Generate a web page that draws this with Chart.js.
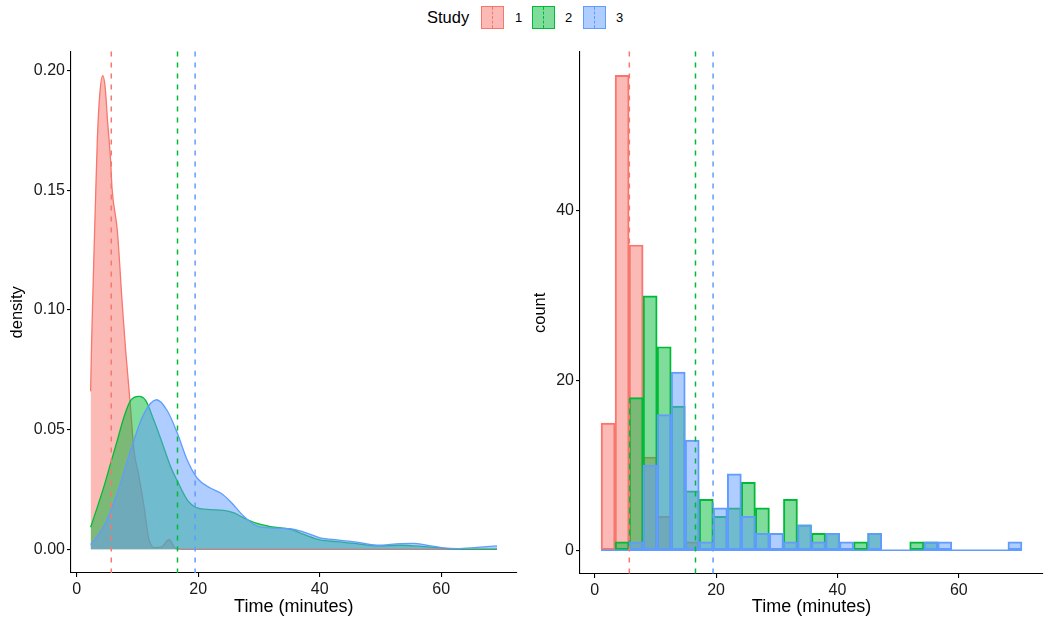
<!DOCTYPE html>
<html lang="en">
<head>
  <meta charset="UTF-8">
  <title>Study times</title>
  <script src="https://cdn.jsdelivr.net/npm/chart.js@4.4.0/dist/chart.umd.min.js"></script>
  <style>
    body { margin: 0; background: #fff; font-family: 'Liberation Sans', Arial, sans-serif; }
    #wrap { position: relative; width: 1045px; height: 623px; overflow: hidden; }
    canvas { position: absolute; top: 40px; }
    .legend-title { position: absolute; left: 427px; top: 8px; font-size: 16.5px; color: #000; }
    .key { position: absolute; top: 6px; width: 21px; height: 21px; border: 1.5px solid; }
    .key span { position: absolute; left: 10px; top: 0; height: 100%; border-left: 1.3px dashed; }
    .key-label { position: absolute; top: 10px; font-size: 13px; color: #000; }
  </style>
</head>
<body>
<div id="wrap">
  <div class="legend-title">Study</div>
  <div class="key" id="key1"><span></span></div><div class="key-label" style="left:515px">1</div>
  <div class="key" id="key2"><span></span></div><div class="key-label" style="left:565px">2</div>
  <div class="key" id="key3"><span></span></div><div class="key-label" style="left:616px">3</div>
  <canvas id="density-chart" width="520" height="583" style="left:0"></canvas>
  <canvas id="hist-chart" width="525" height="583" style="left:520px"></canvas>
</div>

<script>
  // density curves (time in minutes, density)
  var dens1X = [2.3, 2.45, 2.6, 2.86, 3.14, 3.41, 3.8, 4.29, 4.7, 5.06, 5.6, 5.82, 6.7, 7.52, 8.07, 8.78, 9.43, 10.26, 11.08, 11.9, 13.0, 14.0, 15.2, 16.3, 17.5, 20, 30, 40, 50, 60, 69.2];
  var dens1Y = [0.066, 0.085, 0.1, 0.1245, 0.149, 0.1715, 0.19, 0.198, 0.193, 0.18, 0.162, 0.151, 0.133, 0.102, 0.083, 0.062, 0.0415, 0.0304, 0.018, 0.0041, 0.0007, 0.001, 0.0041, 0.0003, 0, 0, 0, 0, 0, 0, 0];

  var dens2X = [2.3, 4.5, 5.6, 6.7, 7.79, 8.89, 10.26, 11.36, 12.7, 14.1, 15.46, 16.6, 18.2, 19.85, 22.0, 24.2, 25.9, 27.5, 29.7, 31.9, 35.2, 37.4, 40.1, 42.9, 46.1, 49.4, 53.3, 55.6, 59.3, 61.5, 65, 69.2];
  var dens2Y = [0.0092, 0.0263, 0.036, 0.0456, 0.0553, 0.0622, 0.0639, 0.0622, 0.054, 0.0443, 0.0346, 0.0284, 0.0207, 0.0173, 0.0166, 0.0163, 0.0152, 0.0131, 0.0108, 0.0095, 0.0083, 0.0062, 0.0039, 0.0032, 0.0024, 0.0014, 0.0017, 0.0014, 0.0007, 0.0002, 0.0001, 0.0001];

  var dens3X = [2.3, 4.5, 6.7, 8.9, 11.08, 13.16, 14.9, 16.6, 18.2, 19.85, 22.0, 23.7, 25.3, 27.5, 29.7, 31.9, 33.5, 35.2, 37.4, 40.1, 42.9, 46.1, 49.4, 53.3, 55.5, 57.6, 60.4, 62.6, 65.9, 69.2];
  var dens3Y = [0.002, 0.0097, 0.0235, 0.0415, 0.0567, 0.0625, 0.058, 0.0484, 0.0373, 0.0297, 0.0256, 0.0235, 0.02, 0.0138, 0.0097, 0.009, 0.0088, 0.0086, 0.0072, 0.0048, 0.0039, 0.003, 0.0017, 0.0024, 0.0025, 0.0017, 0.0006, 0.0003, 0.0008, 0.0014];

  // histogram bins (30 bins, midpoints) and counts per study
  var binMids = [2.196, 4.508, 6.82, 9.132, 11.444, 13.756, 16.068, 18.38, 20.692, 23.004, 25.316, 27.628, 29.94, 32.252, 34.564, 36.876, 39.188, 41.5, 43.812, 46.124, 48.436, 50.748, 53.06, 55.372, 57.684, 59.996, 62.308, 64.62, 66.932, 69.244];
  var counts1 = [15, 56, 36, 11, 4, 0, 1, 0, 0, 0, 0, 0, 0, 0, 0, 0, 0, 0, 0, 0, 0, 0, 0, 0, 0, 0, 0, 0, 0, 0];
  var counts2 = [0, 1, 18, 30, 24, 17, 7, 6, 4, 5, 8, 5, 0, 6, 3, 2, 2, 0, 1, 2, 0, 0, 1, 1, 0, 0, 0, 0, 0, 0];
  var counts3 = [0, 0, 1, 10, 16, 21, 13, 1, 5, 9, 4, 2, 2, 1, 3, 1, 2, 1, 0, 2, 0, 0, 0, 1, 1, 0, 0, 0, 0, 1];

  // mean time per study (dashed lines)
  var studyMeans = [5.7, 16.6, 19.5];

  var timeTicks = [0, 20, 40, 60];
  var densityTicks = [0, 0.05, 0.10, 0.15, 0.20];
  var countTicks = [0, 20, 40];

  var colors = ['#F8766D', '#00BA38', '#619CFF'];
  var fills = ['rgba(248,118,109,0.5)', 'rgba(0,186,56,0.5)', 'rgba(97,156,255,0.5)'];
  var FONT = "'Liberation Sans', Arial, sans-serif";

  [1, 2, 3].forEach(function (n) {
    var k = document.getElementById('key' + n);
    k.style.borderColor = colors[n - 1];
    k.style.background = fills[n - 1];
    k.querySelector('span').style.borderColor = colors[n - 1];
  });
  document.getElementById('key1').style.left = '481px';
  document.getElementById('key2').style.left = '532px';
  document.getElementById('key3').style.left = '583px';

  function toPoints(xs, ys) {
    return xs.map(function (x, i) { return { x: x, y: ys[i] }; });
  }

  var meanLines = {
    id: 'meanLines',
    afterDatasetsDraw: function (chart) {
      var ctx = chart.ctx, area = chart.chartArea, xs = chart.scales.x;
      ctx.save();
      ctx.lineWidth = 1.5;
      ctx.setLineDash([5, 6]);
      studyMeans.forEach(function (m, i) {
        var px = xs.getPixelForValue(m);
        ctx.strokeStyle = colors[i];
        ctx.beginPath();
        ctx.moveTo(px, area.top);
        ctx.lineTo(px, area.bottom);
        ctx.stroke();
      });
      ctx.restore();
    }
  };

  function axisX(min, max, height) {
    return {
      type: 'linear', min: min, max: max, offset: false,
      afterBuildTicks: function (s) { s.ticks = timeTicks.map(function (v) { return { value: v }; }); },
      afterFit: function (s) { s.height = height; },
      border: { display: true, color: '#000', width: 1.1 },
      grid: { offset: false, drawOnChartArea: false, drawTicks: true, tickLength: 4, color: '#000', lineWidth: 1.1 },
      ticks: { color: '#1a1a1a', font: { family: FONT, size: 16 }, padding: 3, maxRotation: 0 },
      title: { display: true, text: 'Time (minutes)', color: '#000', font: { family: FONT, size: 18 }, padding: { top: 0, bottom: 5 } }
    };
  }

  function axisY(min, max, width, tickVals, label, titlePad, fmt) {
    return {
      min: min, max: max,
      afterBuildTicks: function (s) { s.ticks = tickVals.map(function (v) { return { value: v }; }); },
      afterFit: function (s) { s.width = width; },
      border: { display: true, color: '#000', width: 1.1 },
      grid: { drawOnChartArea: false, drawTicks: true, tickLength: 4, color: '#000', lineWidth: 1.1 },
      ticks: { color: '#1a1a1a', font: { family: FONT, size: 16 }, padding: 2, callback: fmt },
      title: { display: true, text: label, color: '#000', font: { family: FONT, size: 16.5 }, padding: { top: titlePad, bottom: 0 } }
    };
  }

  // left: density plot
  var densSets = [[dens1X, dens1Y], [dens2X, dens2Y], [dens3X, dens3Y]].map(function (d, i) {
    return {
      label: String(i + 1),
      data: toPoints(d[0], d[1]),
      borderColor: colors[i],
      backgroundColor: fills[i],
      borderWidth: 1.3,
      fill: 'origin',
      pointRadius: 0,
      cubicInterpolationMode: 'monotone',
      order: 3 - i
    };
  });

  new Chart(document.getElementById('density-chart'), {
    type: 'line',
    data: { datasets: densSets },
    options: {
      responsive: false,
      animation: false,
      devicePixelRatio: 1,
      layout: { padding: { top: 8, right: 3.5, left: 0, bottom: 0 } },
      plugins: { legend: { display: false }, tooltip: { enabled: false } },
      scales: {
        x: axisX(-0.93, 72.4, 50),
        y: axisY(-0.0099, 0.208, 71, densityTicks, 'density', 8, function (v) { return Number(v).toFixed(2); })
      }
    },
    plugins: [meanLines]
  });

  // right: histogram of counts
  var histSets = [counts1, counts2, counts3].map(function (c, i) {
    return {
      type: 'bar',
      label: String(i + 1),
      data: toPoints(binMids, c),
      borderColor: colors[i],
      backgroundColor: fills[i],
      borderWidth: 1.3,
      borderSkipped: false,
      barPercentage: 1,
      categoryPercentage: 1,
      grouped: false,
      order: 4 - i
    };
  });
  // zero-count bins of study 3 show as a flat line on the baseline
  var halfBin = (binMids[1] - binMids[0]) / 2;
  histSets.push({
    type: 'line',
    label: '3 baseline',
    data: [{ x: binMids[0] - halfBin, y: 0 }, { x: binMids[binMids.length - 1] + halfBin, y: 0 }],
    borderColor: colors[2],
    borderWidth: 1.3,
    pointRadius: 0,
    fill: false,
    order: 0
  });

  new Chart(document.getElementById('hist-chart'), {
    type: 'bar',
    data: { datasets: histSets },
    options: {
      responsive: false,
      animation: false,
      devicePixelRatio: 1,
      layout: { padding: { top: 6, right: 2, left: 0, bottom: 0 } },
      plugins: { legend: { display: false }, tooltip: { enabled: false } },
      scales: {
        x: axisX(-2.43, 73.87, 49),
        y: axisY(-2.8, 58.8, 60, countTicks, 'count', 11, function (v) { return String(v); })
      }
    },
    plugins: [meanLines]
  });
</script>
</body>
</html>
